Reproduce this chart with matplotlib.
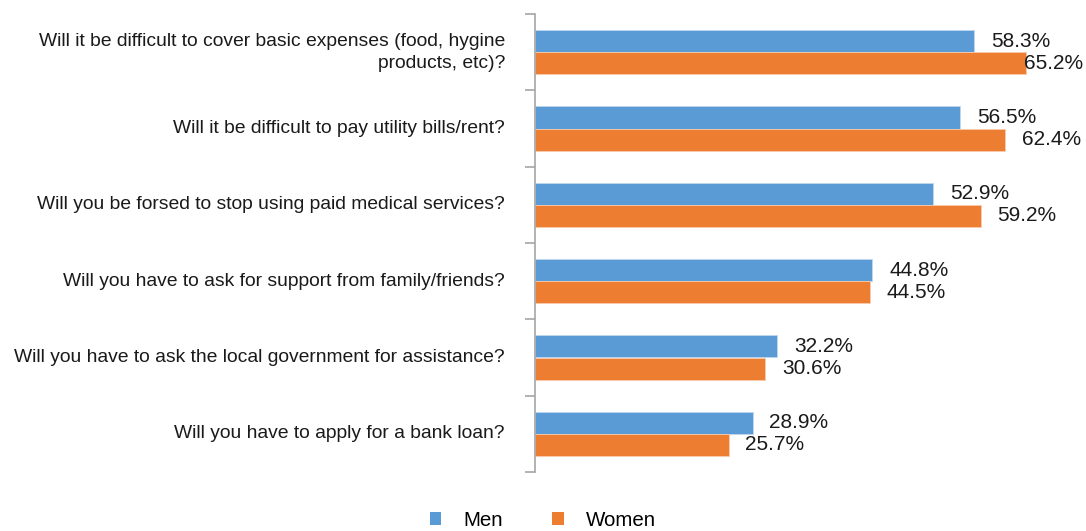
import matplotlib
matplotlib.use("Agg")
import matplotlib.pyplot as plt
from matplotlib.patches import Patch

questions = [
    "Will it be difficult to cover basic expenses (food, hygine\nproducts, etc)?",
    "Will it be difficult to pay utility bills/rent?",
    "Will you be forsed to stop using paid medical services?",
    "Will you have to ask for support from family/friends?",
    "Will you have to ask the local government for assistance?",
    "Will you have to apply for a bank loan?",
]
men = [58.3, 56.5, 52.9, 44.8, 32.2, 28.9]
women = [65.2, 62.4, 59.2, 44.5, 30.6, 25.7]
series_names = ["Men", "Women"]

BLUE = "#5B9BD5"
ORANGE = "#ED7D31"
FONT = "Liberation Sans"

W, H = 1086, 531
fig = plt.figure(figsize=(W / 100, H / 100), dpi=100)
ax_left, ax_right, ax_top, ax_bot = 535, 1086, 14, 472
ax = fig.add_axes([ax_left / W, 1 - ax_bot / H, (ax_right - ax_left) / W, (ax_bot - ax_top) / H])

n = len(questions)
px_per_unit = 7.53
ax.set_xlim(0, (ax_right - ax_left) / px_per_unit)
ax.set_ylim(n, 0)

bar_h = 22 / 76.3
centers = [i + 0.5 for i in range(n)]
men_y = [c - bar_h / 2 for c in centers]
women_y = [c + bar_h / 2 for c in centers]

ax.barh(men_y, men, height=bar_h, color=BLUE, edgecolor="#BDD7EE", linewidth=0.6)
ax.barh(women_y, women, height=bar_h, color=ORANGE, edgecolor="#F8CBAD", linewidth=0.6)

# axis styling: only the left spine with boundary ticks
for s in ["top", "right", "bottom"]:
    ax.spines[s].set_visible(False)
ax.spines["left"].set_color("#A6A6A6")
ax.spines["left"].set_linewidth(1.2)
ax.set_xticks([])
ax.set_yticks(range(n + 1))
ax.set_yticklabels([])
ax.tick_params(axis="y", length=7, width=1.2, color="#A6A6A6")

for c, q in zip(centers, questions):
    ax.text(-30 / px_per_unit, c, q, ha="right", va="center", fontsize=13.9,
            family=FONT, color="#1a1a1a", linespacing=1.38, clip_on=False)

# value labels, pulled back inside the figure if they would overflow
labels = []
for ys, vals in ((men_y, men), (women_y, women)):
    for y, v in zip(ys, vals):
        t = ax.annotate(f"{v:.1f}%", xy=(v, y), xytext=(12, 0), textcoords="offset points",
                        ha="left", va="center", fontsize=15, family=FONT,
                        color="#1a1a1a", annotation_clip=False)
        labels.append(t)

fig.canvas.draw()
r = fig.canvas.get_renderer()
for t in labels:
    bb = t.get_window_extent(r)
    if bb.x1 > W - 3:
        shift = (bb.x1 - (W - 3)) * 72 / 100
        ox, oy = t.xyann
        t.xyann = (ox - shift, oy)

handles = [Patch(facecolor=BLUE), Patch(facecolor=ORANGE)]
fig.legend(handles, series_names, loc="center", bbox_to_anchor=(543 / W, 1 - 520 / H),
           ncol=2, frameon=False, handlelength=0.58, handleheight=0.58,
           columnspacing=2.4, handletextpad=1.07, borderpad=0,
           prop={"family": FONT, "size": 14.8})

fig.savefig("out.png", dpi=100)
